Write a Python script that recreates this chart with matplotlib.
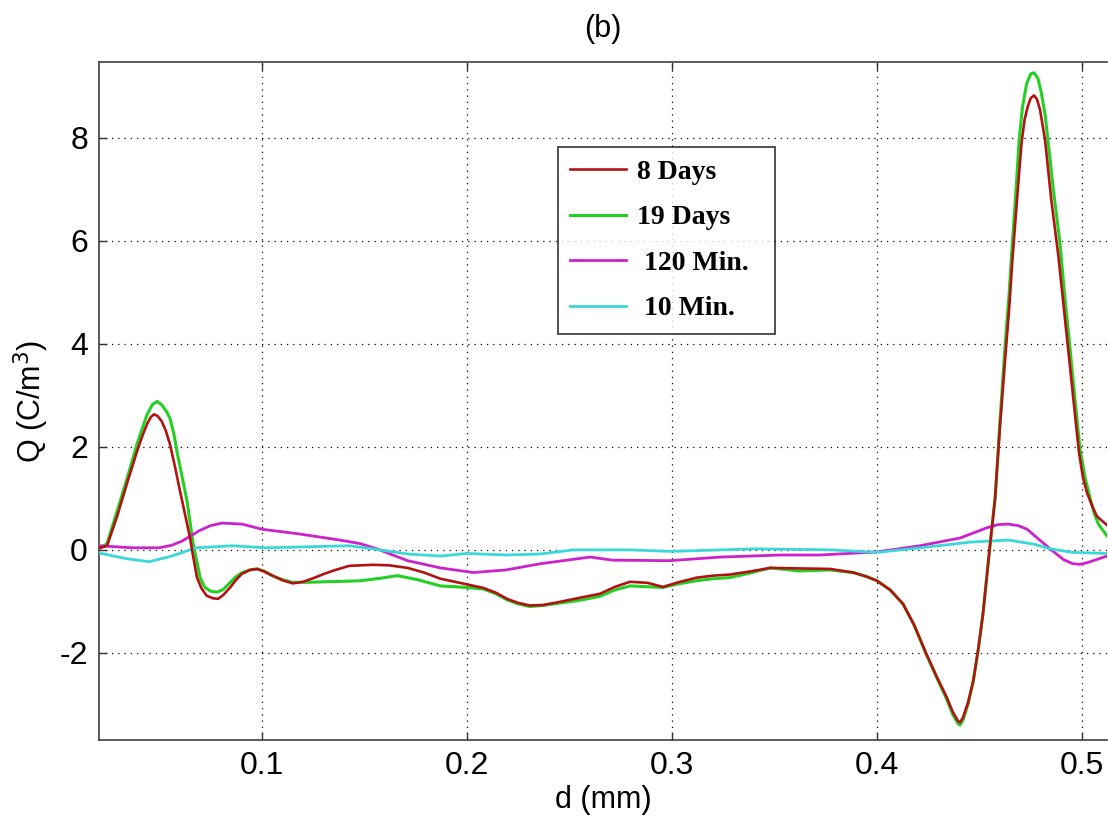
import matplotlib
matplotlib.use("Agg")
import matplotlib.pyplot as plt

plt.rcParams['axes.unicode_minus'] = False
plt.rcParams['font.family'] = ['Liberation Sans', 'DejaVu Sans']

# 8 Days
d_8days = [0.0205, 0.0244, 0.0293, 0.0342, 0.039, 0.0415, 0.044, 0.0458, 0.0473, 0.049,
           0.051, 0.053, 0.0551, 0.0575, 0.060, 0.0625, 0.0649, 0.0665, 0.0683, 0.0705,
           0.073, 0.076, 0.0786, 0.081, 0.084, 0.087, 0.090, 0.094, 0.0976, 0.101,
           0.105, 0.110, 0.115, 0.120, 0.125, 0.130, 0.135, 0.1425, 0.154, 0.162,
           0.171, 0.179, 0.187, 0.200, 0.208, 0.214, 0.2195, 0.225, 0.2307, 0.237,
           0.244, 0.255, 0.265, 0.272, 0.2795, 0.288, 0.2956, 0.303, 0.312, 0.320,
           0.328, 0.338, 0.348, 0.362, 0.377, 0.3884, 0.395, 0.400, 0.4065, 0.4127,
           0.418, 0.424, 0.429, 0.434, 0.437, 0.4395, 0.4405, 0.442, 0.4445, 0.447,
           0.4495, 0.4517, 0.455, 0.4576, 0.460, 0.4625, 0.4645, 0.466, 0.4685, 0.4705,
           0.472, 0.4735, 0.475, 0.4766, 0.478, 0.4795, 0.482, 0.485, 0.4885, 0.491,
           0.4935, 0.496, 0.4985, 0.5005, 0.5025, 0.505, 0.5073, 0.5122]
q_8days = [0.03, 0.08, 0.65, 1.3, 1.91, 2.2, 2.45, 2.58, 2.63, 2.6,
           2.5, 2.32, 2.05, 1.62, 1.14, 0.68, 0.23, -0.15, -0.54, -0.75,
           -0.89, -0.94, -0.95, -0.88, -0.75, -0.6, -0.47, -0.39, -0.37, -0.42,
           -0.5, -0.59, -0.65, -0.62, -0.55, -0.47, -0.4, -0.31, -0.29, -0.3,
           -0.35, -0.44, -0.56, -0.67, -0.74, -0.83, -0.95, -1.03, -1.08, -1.07,
           -1.02, -0.93, -0.85, -0.72, -0.62, -0.64, -0.72, -0.63, -0.54, -0.5,
           -0.48, -0.42, -0.35, -0.36, -0.37, -0.44, -0.52, -0.6, -0.78, -1.05,
           -1.45, -2.01, -2.45, -2.86, -3.15, -3.32, -3.35, -3.25, -2.95, -2.53,
           -1.9, -1.24, 0.04, 1.0, 2.4, 3.7, 4.7, 5.6, 6.9, 7.9,
           8.35, 8.6, 8.77, 8.82, 8.75, 8.55, 7.95, 6.8, 5.7, 4.75,
           3.8, 2.85, 1.9, 1.4, 1.1, 0.85, 0.65, 0.48]

# 19 Days
d_19days = [0.0205, 0.0244, 0.0293, 0.0342, 0.039, 0.0415, 0.044, 0.0465, 0.0488, 0.051,
            0.0535, 0.0551, 0.057, 0.0585, 0.061, 0.0634, 0.0664, 0.0698, 0.072, 0.0747,
            0.078, 0.081, 0.084, 0.087, 0.090, 0.094, 0.0976, 0.101, 0.105, 0.110,
            0.115, 0.122, 0.130, 0.140, 0.148, 0.158, 0.166, 0.176, 0.187, 0.200,
            0.208, 0.214, 0.2195, 0.225, 0.2307, 0.237, 0.244, 0.255, 0.265, 0.272,
            0.2795, 0.2956, 0.303, 0.312, 0.320, 0.328, 0.338, 0.348, 0.362, 0.377,
            0.3884, 0.395, 0.400, 0.4065, 0.4127, 0.418, 0.424, 0.429, 0.434, 0.437,
            0.4395, 0.4405, 0.442, 0.4445, 0.447, 0.4495, 0.4517, 0.455, 0.4576, 0.460,
            0.4625, 0.4645, 0.466, 0.468, 0.4693, 0.471, 0.473, 0.475, 0.4766, 0.4785,
            0.480, 0.482, 0.4834, 0.486, 0.4893, 0.4915, 0.494, 0.4965, 0.499, 0.5015,
            0.504, 0.506, 0.508, 0.5122]
q_19days = [0.03, 0.12, 0.75, 1.39, 2.05, 2.35, 2.63, 2.82, 2.88, 2.82,
            2.68, 2.55, 2.25, 1.91, 1.42, 0.95, 0.12, -0.54, -0.72, -0.8,
            -0.82, -0.77, -0.65, -0.53, -0.45, -0.39, -0.37, -0.41, -0.5, -0.58,
            -0.63, -0.63, -0.62, -0.61, -0.6, -0.55, -0.5, -0.58, -0.70, -0.73,
            -0.76, -0.85, -0.97, -1.05, -1.10, -1.08, -1.04, -0.98, -0.9, -0.78,
            -0.70, -0.73, -0.66, -0.6, -0.56, -0.54, -0.45, -0.35, -0.41, -0.39,
            -0.44, -0.52, -0.6, -0.78, -1.05, -1.45, -2.03, -2.47, -2.9, -3.2,
            -3.37, -3.40, -3.3, -2.98, -2.55, -1.9, -1.24, 0.04, 1.0, 2.5,
            3.98, 5.0, 5.94, 7.1, 7.95, 8.6, 9.05, 9.24, 9.26, 9.15,
            8.9, 8.45, 7.95, 7.0, 5.94, 4.95, 3.98, 2.95, 1.97, 1.4,
            1.0, 0.7, 0.5, 0.27]

# 120 Min.
d_120min = [0.0205, 0.0366, 0.0498, 0.056, 0.061, 0.0693, 0.0748, 0.0805, 0.0903, 0.100,
            0.118, 0.138, 0.148, 0.156, 0.171, 0.187, 0.203, 0.219, 0.2356, 0.26,
            0.271, 0.299, 0.3235, 0.353, 0.372, 0.400, 0.421, 0.4405, 0.4537, 0.459,
            0.464, 0.469, 0.4732, 0.4844, 0.491, 0.4956, 0.499, 0.5025, 0.5122]
q_120min = [0.08, 0.04, 0.04, 0.09, 0.17, 0.37, 0.47, 0.52, 0.5, 0.4,
            0.31, 0.19, 0.12, 0.02, -0.21, -0.35, -0.44, -0.39, -0.27, -0.14,
            -0.2, -0.21, -0.14, -0.1, -0.1, -0.04, 0.08, 0.23, 0.43, 0.49,
            0.5, 0.47, 0.4, 0.02, -0.19, -0.27, -0.28, -0.25, -0.12]

# 10 Min.
d_10min = [0.0205, 0.0337, 0.045, 0.056, 0.0678, 0.0854, 0.102, 0.1425, 0.154, 0.171,
           0.187, 0.200, 0.2195, 0.2356, 0.252, 0.28, 0.2995, 0.34, 0.3775, 0.400,
           0.421, 0.4455, 0.464, 0.4766, 0.4844, 0.4956, 0.5122]
q_10min = [-0.06, -0.17, -0.23, -0.12, 0.04, 0.08, 0.04, 0.08, 0.02, -0.08,
           -0.12, -0.07, -0.1, -0.08, 0.0, 0.0, -0.03, 0.02, 0.0, -0.05,
           0.04, 0.15, 0.19, 0.11, 0.02, -0.05, -0.07]

labels = ['8 Days', '19 Days', ' 120 Min.  ', ' 10 Min.']
x_ticks = [0.1, 0.2, 0.3, 0.4, 0.5]
y_ticks = [-2, 0, 2, 4, 6, 8]

fig = plt.figure(figsize=(11.08, 8.21), dpi=100)
ax = fig.add_axes([0.0894, 0.0987, 0.9097, 0.8258])

l1, = ax.plot(d_8days, q_8days, color='#b31212', lw=1.9, zorder=4)
l2, = ax.plot(d_19days, q_19days, color='#25d025', lw=2.2, zorder=3)
l3, = ax.plot(d_120min, q_120min, color='#cc22cc', lw=2.0, zorder=3)
l4, = ax.plot(d_10min, q_10min, color='#3ad8d8', lw=2.0, zorder=3)

ax.set_xlim(0.0205, 0.5122)
ax.set_ylim(-3.69, 9.47)
ax.set_xticks(x_ticks)
ax.set_xticklabels(['0.1', '0.2', '0.3', '0.4', '0.5'])
ax.set_yticks(y_ticks)
ax.set_yticklabels([str(v) for v in y_ticks])
ax.tick_params(direction='in', length=6, width=1, top=True, right=False,
               labelsize=23, pad=8, colors='#303030', labelcolor='black')
ax.grid(True, linestyle=(0, (1, 4)), color='black', linewidth=0.9)
for s in ax.spines.values():
    s.set_color('#404040')
    s.set_linewidth(1.2)
ax.spines['right'].set_visible(False)

ax.set_xlabel('d (mm)', fontsize=22, labelpad=3)
ax.set_ylabel('Q (C/m$^3$)', fontsize=22, labelpad=6)
ax.set_title('(b)', fontsize=22, pad=18)

leg = ax.legend([l1, l2, l3, l4], labels, loc='upper left',
                bbox_to_anchor=(0.5036, 0.821), bbox_transform=fig.transFigure,
                prop={'family': 'Liberation Serif', 'weight': 'bold', 'size': 20},
                frameon=True, fancybox=False, borderaxespad=0, borderpad=0.45,
                handlelength=2.0, handletextpad=0.4, labelspacing=0.72)
leg.get_frame().set_edgecolor('black')
leg.get_frame().set_linewidth(1.2)
leg.set_zorder(10)

fig.savefig('out.png', dpi=100)
